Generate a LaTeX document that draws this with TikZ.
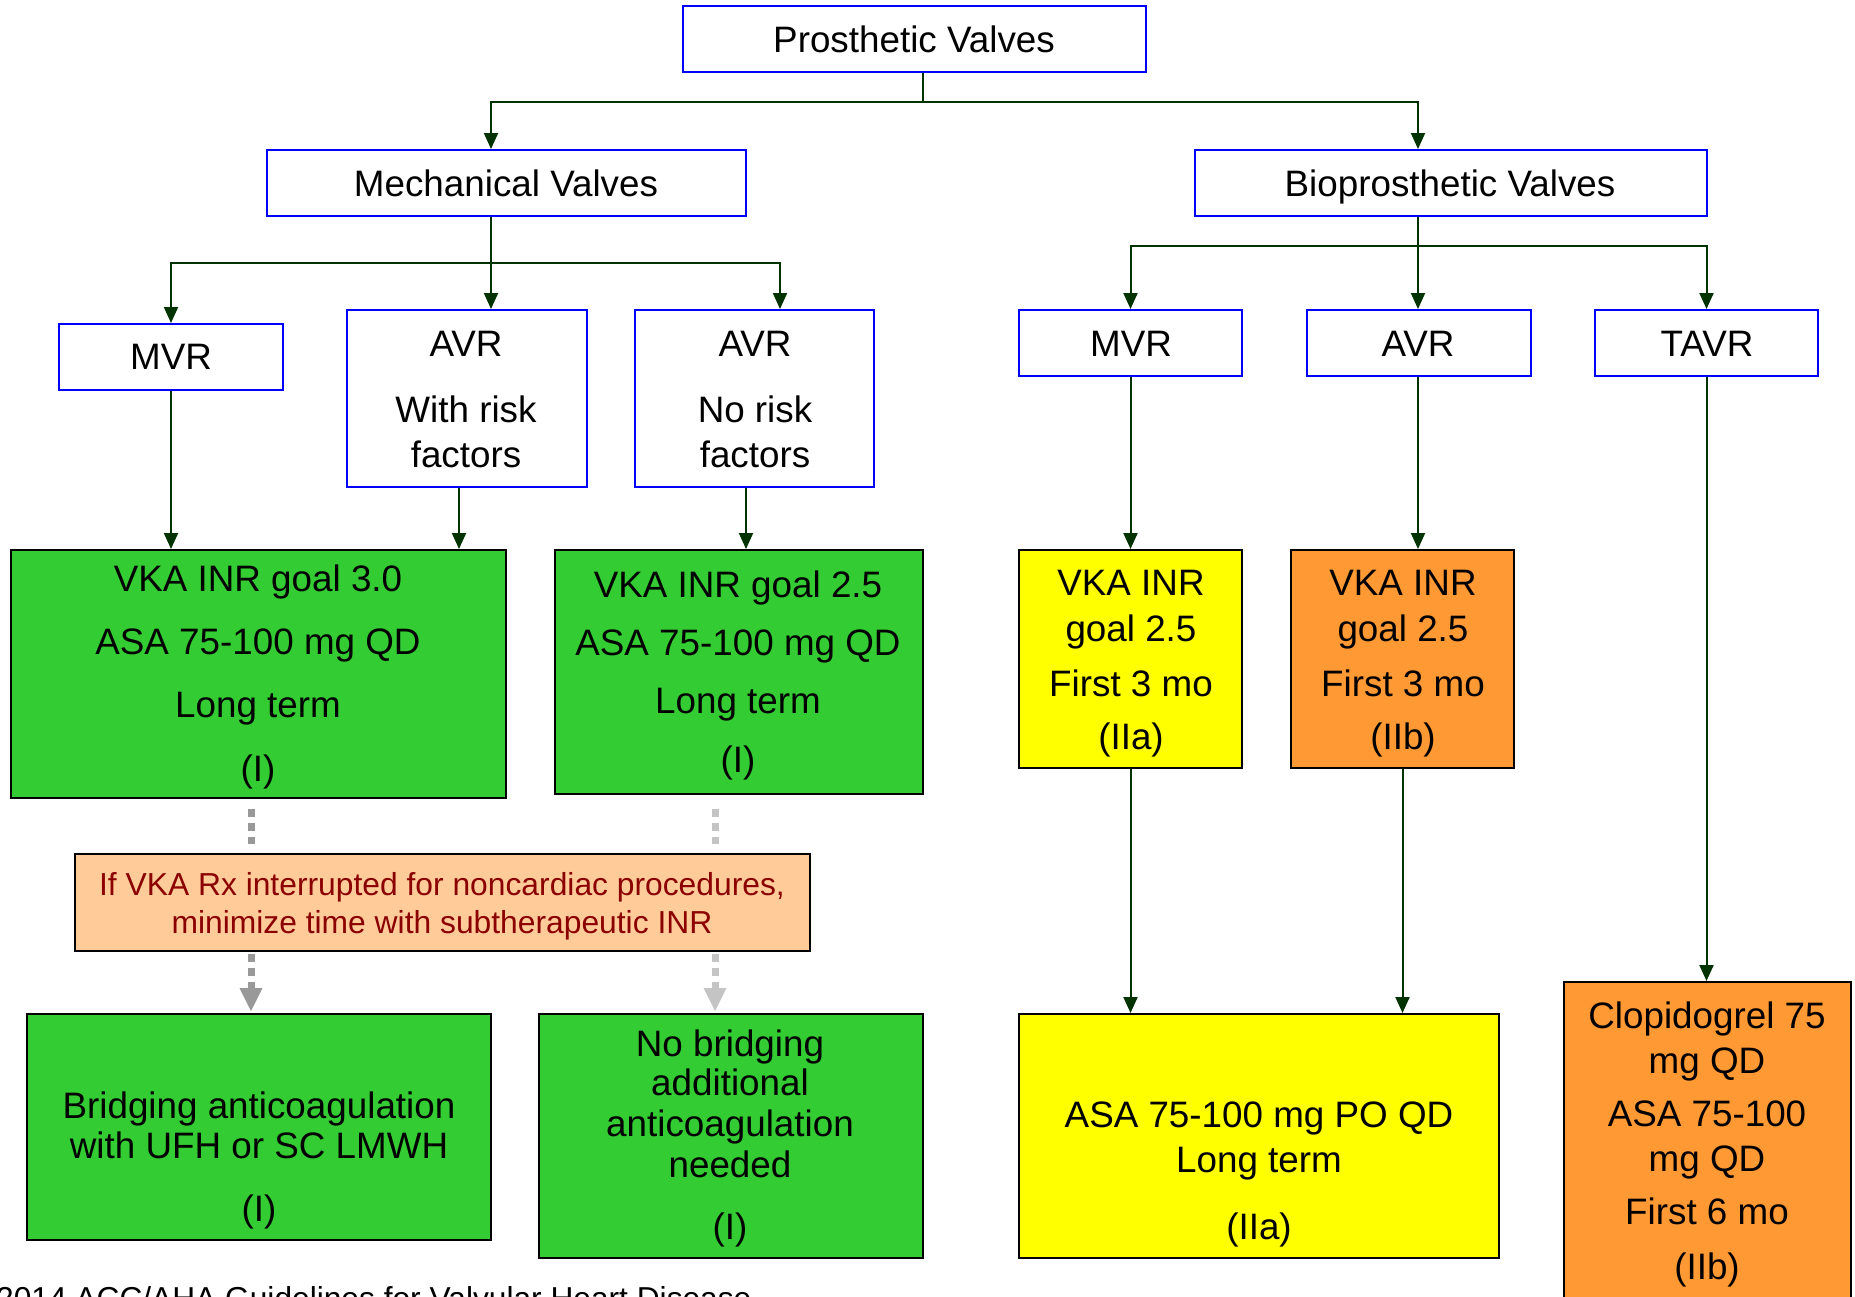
\documentclass[tikz,border=0pt]{standalone}
\usepackage{fontspec}
\setmainfont{Liberation Sans}
\usetikzlibrary{arrows.meta,calc}
\definecolor{conncol}{HTML}{003300}
\definecolor{boxgreen}{HTML}{33CC33}
\definecolor{boxyellow}{HTML}{FFFF00}
\definecolor{boxorange}{HTML}{FF9933}
\definecolor{boxsalmon}{HTML}{FFCC99}
\definecolor{notered}{HTML}{8B0000}
\definecolor{dashdark}{HTML}{999999}
\definecolor{dashlight}{HTML}{C4C4C4}
\begin{document}
\begin{tikzpicture}[x=1pt,y=-1pt,
  bluebox/.style={draw=blue, line width=2pt, fill=white, inner sep=0pt},
  fillbox/.style={draw=black, line width=2pt, inner sep=0pt},
  ln/.style={inner sep=0pt, font=\fontsize{36.8}{44}\selectfont, text height=26.3pt, text depth=0pt, anchor=center},
  noteln/.style={inner sep=0pt, font=\fontsize{31.8}{38}\selectfont, text height=22.8pt, text depth=0pt, anchor=center, text=notered},
  conn/.style={draw=conncol, line width=2pt},
  arr/.style={conn, -{Triangle[width=14pt,length=16pt]}},
  gdash/.style={line width=7pt, dash pattern=on 8pt off 6pt},
]
\useasboundingbox (0,0) rectangle (1855,1296);
\clip (0,0) rectangle (1855,1296);

% ---------- boxes ----------
\node[bluebox, minimum width=463, minimum height=66] (pv) at (914.5,39) {};
\node[bluebox, minimum width=479, minimum height=66] (mv) at (506.5,183) {};
\node[bluebox, minimum width=512, minimum height=66] (bv) at (1451,183) {};
\node[bluebox, minimum width=224, minimum height=66] (mvr1) at (171,357) {};
\node[bluebox, minimum width=240, minimum height=177] (avr1) at (467,398.5) {};
\node[bluebox, minimum width=239, minimum height=177] (avr2) at (754.5,398.5) {};
\node[bluebox, minimum width=223, minimum height=66] (mvr2) at (1130.5,343) {};
\node[bluebox, minimum width=224, minimum height=66] (avr3) at (1419,343) {};
\node[bluebox, minimum width=223, minimum height=66] (tavr) at (1706.5,343) {};

\node[fillbox, fill=boxgreen, minimum width=495, minimum height=248] (g1) at (258.5,674) {};
\node[fillbox, fill=boxgreen, minimum width=368, minimum height=244] (g2) at (739,672) {};
\node[fillbox, fill=boxyellow, minimum width=223, minimum height=218] (y1) at (1130.5,659) {};
\node[fillbox, fill=boxorange, minimum width=223, minimum height=218] (o1) at (1402.5,659) {};
\node[fillbox, fill=boxsalmon, minimum width=735, minimum height=97] (note) at (442.5,902.5) {};
\node[fillbox, fill=boxgreen, minimum width=464, minimum height=226] (g3) at (259,1127) {};
\node[fillbox, fill=boxgreen, minimum width=384, minimum height=244] (g4) at (731,1136) {};
\node[fillbox, fill=boxyellow, minimum width=480, minimum height=244] (y2) at (1259,1136) {};
\node[fillbox, fill=boxorange, minimum width=287, minimum height=328] (o2) at (1707.5,1146) {};

% ---------- texts ----------
\node[ln] (pvt) at (914,39) {Prosthetic Valves};
\node[ln] (mvt) at (506,183) {Mechanical Valves};
\node[ln] (bvt) at (1450,183) {Bioprosthetic Valves};
\node[ln] (mvr1t) at (171,356) {MVR};
\node[ln] (avr1a) at (466,343) {AVR};
\node[ln] (avr1b) at (466,409) {With risk};
\node[ln] (avr1c) at (466,454) {factors};
\node[ln] (avr2a) at (755,343) {AVR};
\node[ln] (avr2b) at (755,409) {No risk};
\node[ln] (avr2c) at (755,454) {factors};
\node[ln] (mvr2t) at (1131,343) {MVR};
\node[ln] (avr3t) at (1418,343) {AVR};
\node[ln] (tavrt) at (1707,343) {TAVR};

\node[ln] (g1a) at (258,578) {VKA INR goal 3.0};
\node[ln] (g1b) at (258,641) {ASA 75-100 mg QD};
\node[ln] (g1c) at (258,704) {Long term};
\node[ln] (g1d) at (258,768) {(I)};

\node[ln] (g2a) at (738,584) {VKA INR goal 2.5};
\node[ln] (g2b) at (738,642) {ASA 75-100 mg QD};
\node[ln] (g2c) at (738,700) {Long term};
\node[ln] (g2d) at (738,759) {(I)};

\node[ln] (y1a) at (1131,582) {VKA INR};
\node[ln] (y1b) at (1131,628) {goal 2.5};
\node[ln] (y1c) at (1131,683) {First 3 mo};
\node[ln] (y1d) at (1131,736) {(IIa)};

\node[ln] (o1a) at (1403,582) {VKA INR};
\node[ln] (o1b) at (1403,628) {goal 2.5};
\node[ln] (o1c) at (1403,683) {First 3 mo};
\node[ln] (o1d) at (1403,736) {(IIb)};

\node[noteln] (notea) at (442,884) {If VKA Rx interrupted for noncardiac procedures,};
\node[noteln] (noteb) at (442,922) {minimize time with subtherapeutic INR};

\node[ln] (g3a) at (259,1105) {Bridging anticoagulation};
\node[ln] (g3b) at (259,1145) {with UFH or SC LMWH};
\node[ln] (g3c) at (259,1208) {(I)};

\node[ln] (g4a) at (730,1043) {No bridging};
\node[ln] (g4b) at (730,1082) {additional};
\node[ln] (g4c) at (730,1123) {anticoagulation};
\node[ln] (g4d) at (730,1164) {needed};
\node[ln] (g4e) at (730,1226) {(I)};

\node[ln] (y2a) at (1259,1114) {ASA 75-100 mg PO QD};
\node[ln] (y2b) at (1259,1159) {Long term};
\node[ln] (y2c) at (1259,1226) {(IIa)};

\node[ln] (o2a) at (1707,1015) {Clopidogrel 75};
\node[ln] (o2b) at (1707,1060) {mg QD};
\node[ln] (o2c) at (1707,1113) {ASA 75-100};
\node[ln] (o2d) at (1707,1158) {mg QD};
\node[ln] (o2e) at (1707,1211) {First 6 mo};
\node[ln] (o2f) at (1707,1266) {(IIb)};

\node[anchor=base west, inner sep=0pt, font=\fontsize{31.7}{38}\selectfont] (foot) at (-4,1309) {2014 ACC/AHA Guidelines for Valvular Heart Disease};

% ---------- connectors ----------
\coordinate (j0) at (923,102);
\coordinate (xa) at (491,0);
\coordinate (j1) at (491,263);
\coordinate (xc) at (780,0);
\coordinate (j2) at (1418,246);
\coordinate (xr1) at (459,0);
\coordinate (xr2) at (746,0);

\draw[conn] (pv.south -| j0) -- (j0);
\draw[arr] (j0) -| (mv.north -| xa);
\draw[arr] (j0) -| (bv.north -| j2);

\draw[arr] (mv.south -| xa) -- (avr1.north -| xa);
\draw[arr] (j1) -| (mvr1.north);
\draw[arr] (j1) -| (avr2.north -| xc);

\draw[arr] (bv.south -| j2) -- (avr3.north -| j2);
\draw[arr] (j2) -| (mvr2.north);
\draw[arr] (j2) -| (tavr.north);

\draw[arr] (mvr1.south) -- (mvr1.south |- g1.north);
\draw[arr] (avr1.south -| xr1) -- (g1.north -| xr1);
\draw[arr] (avr2.south -| xr2) -- (g2.north -| xr2);
\draw[arr] (mvr2.south) -- (mvr2.south |- y1.north);
\draw[arr] (avr3.south -| j2) -- (o1.north -| j2);
\draw[arr] (tavr.south) -- (tavr.south |- o2.north);
\draw[arr] (y1.south) -- (y1.south |- y2.north);
\draw[arr] (o1.south) -- (o1.south |- y2.north);

% ---------- gray dashed connectors ----------
\coordinate (xdl) at (251,0);
\coordinate (xdr) at (715,0);
\draw[gdash, draw=dashdark, shorten <=10pt, shorten >=9pt] (g1.south -| xdl) -- (note.north -| xdl);
\draw[gdash, draw=dashlight, shorten <=14pt, shorten >=9pt] (g2.south -| xdr) -- (note.north -| xdr);
\draw[gdash, draw=dashdark, shorten <=2pt, shorten >=2pt, -{Triangle[width=23pt,length=23pt,fill=dashdark,line width=0pt]}] (note.south -| xdl) -- (g3.north -| xdl);
\draw[gdash, draw=dashlight, shorten <=2pt, shorten >=2pt, -{Triangle[width=23pt,length=23pt,fill=dashlight,line width=0pt]}] (note.south -| xdr) -- (g4.north -| xdr);
\end{tikzpicture}
\end{document}
